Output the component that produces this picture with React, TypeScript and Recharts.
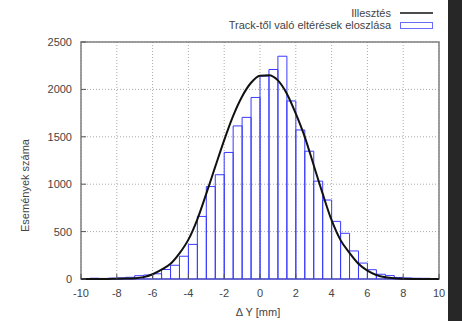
import {
  ComposedChart,
  Bar,
  Line,
  XAxis,
  YAxis,
  CartesianGrid,
  Legend,
  ReferenceArea,
} from "recharts";

// histogram bins (0.5 mm wide), centres and counts
const binCenters = [
  -9.75, -9.25, -8.75, -8.25, -7.75, -7.25, -6.75, -6.25, -5.75, -5.25,
  -4.75, -4.25, -3.75, -3.25, -2.75, -2.25, -1.75, -1.25, -0.75, -0.25,
  0.25, 0.75, 1.25, 1.75, 2.25, 2.75, 3.25, 3.75, 4.25, 4.75,
  5.25, 5.75, 6.25, 6.75, 7.25, 7.75, 8.25, 8.75, 9.25, 9.75,
];
const binCounts = [
  5, 8, 6, 8, 12, 18, 35, 42, 55, 100,
  145, 240, 365, 660, 975, 1100, 1335, 1615, 1705, 1915,
  2140, 2210, 2350, 1878, 1572, 1348, 1032, 833, 608, 482,
  296, 168, 98, 50, 36, 16, 11, 8, 7, 5,
];

// fitted curve
const fitX = [
  -10, -9.5, -9, -8.5, -8, -7.5, -7, -6.5, -6, -5.5,
  -5, -4.5, -4, -3.5, -3, -2.5, -2, -1.5, -1, -0.5,
  0, 0.5, 1, 1.5, 2, 2.5, 3, 3.5, 4, 4.5,
  5, 5.5, 6, 6.5, 7, 7.5, 8, 8.5, 9, 9.5, 10,
];
const fitY = [
  0, 0, 0, 1, 2, 4, 8, 20, 50, 98,
  160, 270, 415, 630, 900, 1185, 1465, 1720, 1925, 2070,
  2145, 2150, 2095, 1955, 1745, 1500, 1200, 900, 620, 410,
  275, 160, 88, 42, 18, 7, 3, 1, 0, 0, 0,
];

const xTicks = [-10, -8, -6, -4, -2, 0, 2, 4, 6, 8, 10];
const yTicks = [0, 500, 1000, 1500, 2000, 2500];

const fitName = "Illesztés";
const histName = "Track-től való eltérések eloszlása";
const xTitle = "Δ Y [mm]";
const yTitle = "Események száma";

const bins = binCenters.map((c, i) => ({ bin: c, count: binCounts[i] }));
const fit = fitX.map((x, i) => ({ x, y: fitY[i] }));

const FONT = '"Liberation Sans", Arial, sans-serif';
const TEXT = "#444";
const FRAME = "#808080";
const TICK = "#555";
const BLUE = "#3a3aff";

function ChartLegend() {
  const row = {
    display: "flex",
    alignItems: "center",
    justifyContent: "flex-end",
    height: 12,
  } as const;
  return (
    <div style={{ fontFamily: FONT, fontSize: 11, color: TEXT, lineHeight: "12px" }}>
      <div style={row}>
        <span>{fitName}</span>
        <svg width={33} height={12} style={{ marginLeft: 9 }}>
          <line x1={0} x2={33} y1={6} y2={6} stroke="#111" strokeWidth={1.5} />
        </svg>
      </div>
      <div style={row}>
        <span>{histName}</span>
        <svg width={33} height={12} style={{ marginLeft: 9 }}>
          <rect x={0.5} y={3.5} width={32} height={6} fill="#fff" stroke="#6a6aff" />
        </svg>
      </div>
    </div>
  );
}

const noTick = () => <g />;

export default function App() {
  return (
    <div
      style={{
        position: "absolute",
        left: 0,
        top: 0,
        width: 462,
        height: 321,
        background: "#272727",
      }}
    >
      <ComposedChart
        width={448}
        height={321}
        data={bins}
        margin={{ top: 42, right: 9, bottom: 12, left: 0 }}
        barCategoryGap={0}
        barGap={0}
        style={{ background: "#fff" }}
      >
        <CartesianGrid
          xAxisId="num"
          yAxisId="cnt"
          stroke="#aaa"
          strokeDasharray="1 2"
        />
        <XAxis
          xAxisId="num"
          dataKey="x"
          type="number"
          domain={[-10, 10]}
          ticks={xTicks}
          allowDataOverflow
          height={30}
          axisLine={false}
          tickLine={{ stroke: TICK }}
          tickSize={-5}
          tickMargin={15}
          tick={{ fill: TEXT, fontSize: 11, fontFamily: FONT }}
          label={{
            content: (p: any) => {
              const vb = p.viewBox;
              return (
                <text
                  x={vb.x + vb.width / 2 - 2}
                  y={vb.y + 37}
                  textAnchor="middle"
                  fill={TEXT}
                  fontSize={11}
                  fontFamily={FONT}
                >
                  {xTitle}
                </text>
              );
            },
          }}
        />
        <XAxis xAxisId="bins" dataKey="bin" type="category" height={0} hide />
        <XAxis
          xAxisId="top"
          orientation="top"
          type="number"
          domain={[-10, 10]}
          ticks={xTicks}
          height={0}
          axisLine={false}
          tickLine={{ stroke: TICK }}
          tickSize={-5}
          tick={noTick}
        />
        <YAxis
          yAxisId="cnt"
          type="number"
          domain={[0, 2500]}
          ticks={yTicks}
          width={81}
          axisLine={false}
          tickLine={{ stroke: TICK }}
          tickSize={-5}
          tickMargin={14}
          tick={{ fill: TEXT, fontSize: 11, fontFamily: FONT }}
          label={{
            content: (p: any) => {
              const vb = p.viewBox;
              const cx = vb.x + 25;
              const cy = vb.y + vb.height / 2 + 25;
              return (
                <text
                  x={cx}
                  y={cy}
                  transform={`rotate(-90, ${cx}, ${cy})`}
                  textAnchor="middle"
                  dominantBaseline="central"
                  fill={TEXT}
                  fontSize={11}
                  fontFamily={FONT}
                >
                  {yTitle}
                </text>
              );
            },
          }}
        />
        <YAxis
          yAxisId="mirror"
          orientation="right"
          type="number"
          domain={[0, 2500]}
          ticks={yTicks}
          width={0}
          axisLine={false}
          tickLine={{ stroke: TICK }}
          tickSize={-5}
          tick={noTick}
        />
        <Legend
          layout="vertical"
          align="center"
          verticalAlign="middle"
          content={() => <ChartLegend />}
          wrapperStyle={{ top: 7, right: 15, left: "auto", width: "auto" }}
        />
        <Bar
          xAxisId="bins"
          yAxisId="cnt"
          dataKey="count"
          name={histName}
          fill="none"
          stroke={BLUE}
          strokeWidth={1}
          isAnimationActive={false}
        />
        <Line
          xAxisId="num"
          yAxisId="cnt"
          data={fit}
          dataKey="y"
          name={fitName}
          type="monotone"
          stroke="#111"
          strokeWidth={2}
          dot={false}
          activeDot={false}
          isAnimationActive={false}
        />
        <ReferenceArea
          xAxisId="num"
          yAxisId="cnt"
          x1={-10}
          x2={10}
          y1={0}
          y2={2500}
          fill="none"
          fillOpacity={0}
          stroke={FRAME}
          strokeWidth={1.5}
          ifOverflow="visible"
        />
      </ComposedChart>
    </div>
  );
}
